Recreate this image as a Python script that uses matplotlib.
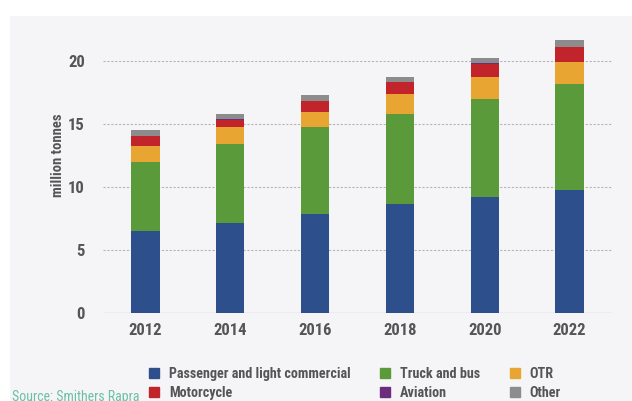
import matplotlib
matplotlib.use("Agg")
import matplotlib.pyplot as plt
import matplotlib.font_manager as fm
from matplotlib.patches import Rectangle
import numpy as np

# pick a condensed sans that is installed
installed = {f.name for f in fm.fontManager.ttflist}
condensed = next((n for n in ["Roboto Condensed", "Barlow Condensed", "Archivo Narrow",
                              "PT Sans Narrow", "Sofia Sans Condensed"] if n in installed),
                 "DejaVu Sans")
plt.rcParams['font.family'] = [condensed, 'DejaVu Sans']
plt.rcParams['font.weight'] = 'bold'

years = ["2012", "2014", "2016", "2018", "2020", "2022"]
passenger = [6.54, 7.12, 7.89, 8.63, 9.21, 9.79]
truck_bus = [5.42, 6.32, 6.87, 7.14, 7.75, 8.36]
otr = [1.32, 1.32, 1.19, 1.61, 1.80, 1.75]
motorcycle = [0.77, 0.59, 0.88, 0.95, 1.03, 1.19]
aviation = [0.03, 0.03, 0.03, 0.03, 0.03, 0.03]
other = [0.42, 0.42, 0.42, 0.40, 0.39, 0.58]

series = [
    ("Passenger and light commercial", passenger, "#2d4f8c"),
    ("Truck and bus", truck_bus, "#5b9a3b"),
    ("OTR", otr, "#e8a532"),
    ("Motorcycle", motorcycle, "#c1252b"),
    ("Aviation", aviation, "#6b2d7c"),
    ("Other", other, "#8c8c8c"),
]

text_col = "#555558"
panel = "#f5f5f7"

fig = plt.figure(figsize=(6.32, 4.01), dpi=100, facecolor="white")
fig.patches.append(Rectangle((10 / 632, 0), 1, 1 - 16 / 401, transform=fig.transFigure,
                             facecolor=panel, edgecolor="none", zorder=-10))
ax = fig.add_axes([103 / 632, 88 / 401, 509 / 632, 283.5 / 401])
ax.set_facecolor(panel)

x = np.arange(len(years))
bottom = np.zeros(len(years))
bars = {}
for name, vals, col in series:
    bars[name] = ax.bar(x, vals, width=0.335, bottom=bottom, color=col, zorder=3)
    bottom += np.array(vals)

ax.set_xlim(-0.5, len(years) - 0.5)
ax.set_ylim(0, 22.5)
ax.set_yticks([0, 5, 10, 15, 20])
ax.set_xticks(x)
ax.set_xticklabels(years)
ax.tick_params(length=0, labelsize=12, colors=text_col, pad=7)
ax.tick_params(axis="y", pad=13)
for lab in ax.get_xticklabels() + ax.get_yticklabels():
    lab.set_fontweight("bold")

ax.yaxis.grid(True, linestyle=(0, (2, 1.5)), color="#b5b5b8", linewidth=0.8, zorder=0)
for s in ax.spines.values():
    s.set_visible(False)
ax.axhline(0, color="#d6d6d9", linewidth=1, zorder=2)

# axis title sits a little above the middle of the axis
ax.set_ylabel("million tonnes", fontsize=10.5, color=text_col, fontweight="bold", va="center")
ax.yaxis.set_label_coords(-0.088, 0.557)

order = ["Passenger and light commercial", "Motorcycle", "Truck and bus",
         "Aviation", "OTR", "Other"]
handles = [Rectangle((0, 0), 1, 1, color=bars[n].patches[0].get_facecolor()) for n in order]
leg = fig.legend(handles, order, loc="upper left", bbox_to_anchor=(142 / 632, 1 - 359.5 / 401),
                 ncol=3, frameon=False, fontsize=10.2, handlelength=0.7, handleheight=0.7,
                 handletextpad=0.7, columnspacing=2.1, labelspacing=0.4, borderpad=0)
for t in leg.get_texts():
    t.set_color(text_col)
    t.set_fontweight("bold")

fig.text(12 / 632, 1 - 397 / 401, "Source: Smithers Rapra", color="#6cc0a4", fontsize=10,
         fontweight="normal", va="center")

fig.savefig("out.png", dpi=100, facecolor="white")
